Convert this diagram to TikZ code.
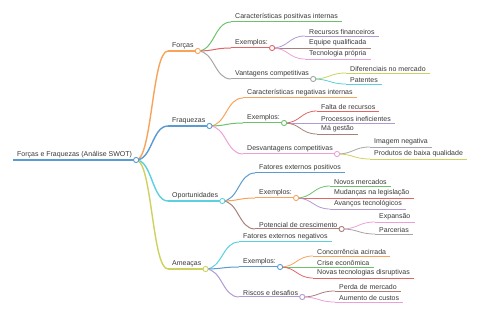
\documentclass[tikz,border=0pt]{standalone}
\usepackage{fontspec}
\setmainfont{Liberation Sans}
\usepackage{xcolor}
\usetikzlibrary{calc}

\definecolor{cblue}{HTML}{5B9BD0}
\definecolor{corange}{HTML}{F7A35C}
\definecolor{cgreen}{HTML}{6CC26C}
\definecolor{cred}{HTML}{E06666}
\definecolor{cpurple}{HTML}{B09AD4}
\definecolor{cbrown}{HTML}{A98079}
\definecolor{cpink}{HTML}{EDA0D6}
\definecolor{cgray}{HTML}{A6A6A6}
\definecolor{colive}{HTML}{CED15E}
\definecolor{ccyan}{HTML}{5CD0DE}

% curved link from a parent knob to the start of a child's bar
\newcommand{\mmlink}[3]{\draw[#3] let \p1=(#1.south east), \p2=(#2.south west) in
  (\p1) .. controls ({(\x1+\x2)/2},\y1) and ({(\x1+\x2)/2},\y2) .. (\p2);}
% bar under a label
\newcommand{\mmbar}[2]{\draw[#2] (#1.south west) -- (#1.south east);}
% open knob at the end of a bar
\newcommand{\mmknob}[2]{\node[knob, draw=#2] (#1-k) at (#1.south east) {};}

\begin{document}
\begin{tikzpicture}[x=1pt, y=-1pt,
    item/.style={anchor=south west, inner xsep=4pt, inner ysep=1.6pt,
                 text=black!78, font=\fontsize{7}{8}\selectfont},
    knob/.style={circle, fill=white, inner sep=0pt, minimum size=5.2pt, line width=0.9pt},
    d0/.style={line width=1.8pt}, d1/.style={line width=1.4pt},
    d2/.style={line width=1pt}, d3/.style={line width=0.8pt}
    ]
    \useasboundingbox (0,0) rectangle (480,320);

    % root and main branches
    \node[item] (root) at (13,160) {Forças e Fraquezas (Análise SWOT)};
    \node[item] (forcas)  at (168,51)  {Forças};
    \node[item] (fraq)    at (168,126) {Fraquezas};
    \node[item] (oport)   at (168,201) {Oportunidades};
    \node[item] (ameacas) at (168,269) {Ameaças};

    % Forças
    \node[item] (fo-car)  at (231,22) {Características positivas internas};
    \node[item] (fo-ex)   at (231,48) {Exemplos:};
    \node[item] (fo-vant) at (231,79) {Vantagens competitivas};
    \node[item] (fo-rec)  at (305,36) {Recursos financeiros};
    \node[item] (fo-eq)   at (305,48) {Equipe qualificada};
    \node[item] (fo-tec)  at (305,59) {Tecnologia própria};
    \node[item] (fo-dif)  at (346,73) {Diferenciais no mercado};
    \node[item] (fo-pat)  at (346,84) {Patentes};

    % Fraquezas
    \node[item] (fr-car)  at (243,98)  {Características negativas internas};
    \node[item] (fr-ex)   at (243,123) {Exemplos:};
    \node[item] (fr-desv) at (243,154) {Desvantagens competitivas};
    \node[item] (fr-fal)  at (317,111) {Falta de recursos};
    \node[item] (fr-proc) at (317,123) {Processos ineficientes};
    \node[item] (fr-ges)  at (317,134) {Má gestão};
    \node[item] (fr-img)  at (370,147) {Imagem negativa};
    \node[item] (fr-prod) at (370,159) {Produtos de baixa qualidade};

    % Oportunidades
    \node[item] (op-fat)  at (255,173) {Fatores externos positivos};
    \node[item] (op-ex)   at (255,198) {Exemplos:};
    \node[item] (op-pot)  at (255,229) {Potencial de crescimento};
    \node[item] (op-nov)  at (330,186) {Novos mercados};
    \node[item] (op-mud)  at (330,198) {Mudanças na legislação};
    \node[item] (op-ava)  at (330,209) {Avanços tecnológicos};
    \node[item] (op-exp)  at (375,222) {Expansão};
    \node[item] (op-par)  at (375,234) {Parcerias};

    % Ameaças
    \node[item] (am-fat)  at (239,242) {Fatores externos negativos};
    \node[item] (am-ex)   at (239,267) {Exemplos:};
    \node[item] (am-ris)  at (239,297) {Riscos e desafios};
    \node[item] (am-con)  at (313,256) {Concorrência acirrada};
    \node[item] (am-cri)  at (313,267) {Crise econômica};
    \node[item] (am-nov)  at (313,278) {Novas tecnologias disruptivas};
    \node[item] (am-per)  at (335,291) {Perda de mercado};
    \node[item] (am-aum)  at (335,302) {Aumento de custos};

    % links
    \mmlink{root}{forcas}{d1, corange}
    \mmlink{root}{fraq}{d1, cblue}
    \mmlink{root}{oport}{d1, ccyan}
    \mmlink{root}{ameacas}{d1, colive}
    \mmlink{forcas}{fo-car}{d2, cgreen}
    \mmlink{forcas}{fo-ex}{d2, cred}
    \mmlink{forcas}{fo-vant}{d2, cgray}
    \mmlink{fo-ex}{fo-rec}{d3, cpurple}
    \mmlink{fo-ex}{fo-eq}{d3, cbrown}
    \mmlink{fo-ex}{fo-tec}{d3, cpink}
    \mmlink{fo-vant}{fo-dif}{d3, colive}
    \mmlink{fo-vant}{fo-pat}{d3, ccyan}
    \mmlink{fraq}{fr-car}{d2, corange}
    \mmlink{fraq}{fr-ex}{d2, cgreen}
    \mmlink{fraq}{fr-desv}{d2, cpink}
    \mmlink{fr-ex}{fr-fal}{d3, cred}
    \mmlink{fr-ex}{fr-proc}{d3, cpurple}
    \mmlink{fr-ex}{fr-ges}{d3, cbrown}
    \mmlink{fr-desv}{fr-img}{d3, cgray}
    \mmlink{fr-desv}{fr-prod}{d3, colive}
    \mmlink{oport}{op-fat}{d2, cblue}
    \mmlink{oport}{op-ex}{d2, corange}
    \mmlink{oport}{op-pot}{d2, cbrown}
    \mmlink{op-ex}{op-nov}{d3, cgreen}
    \mmlink{op-ex}{op-mud}{d3, cred}
    \mmlink{op-ex}{op-ava}{d3, cpurple}
    \mmlink{op-pot}{op-exp}{d3, cpink}
    \mmlink{op-pot}{op-par}{d3, cgray}
    \mmlink{ameacas}{am-fat}{d2, ccyan}
    \mmlink{ameacas}{am-ex}{d2, cblue}
    \mmlink{ameacas}{am-ris}{d2, cpurple}
    \mmlink{am-ex}{am-con}{d3, corange}
    \mmlink{am-ex}{am-cri}{d3, cgreen}
    \mmlink{am-ex}{am-nov}{d3, cred}
    \mmlink{am-ris}{am-per}{d3, cbrown}
    \mmlink{am-ris}{am-aum}{d3, cpink}

    % bars
    \mmbar{root}{d0, cblue}
    \mmbar{forcas}{d1, corange}   \mmbar{fraq}{d1, cblue}
    \mmbar{oport}{d1, ccyan}      \mmbar{ameacas}{d1, colive}
    \mmbar{fo-car}{d2, cgreen}    \mmbar{fo-ex}{d2, cred}     \mmbar{fo-vant}{d2, cgray}
    \mmbar{fo-rec}{d3, cpurple}   \mmbar{fo-eq}{d3, cbrown}   \mmbar{fo-tec}{d3, cpink}
    \mmbar{fo-dif}{d3, colive}    \mmbar{fo-pat}{d3, ccyan}
    \mmbar{fr-car}{d2, corange}   \mmbar{fr-ex}{d2, cgreen}   \mmbar{fr-desv}{d2, cpink}
    \mmbar{fr-fal}{d3, cred}      \mmbar{fr-proc}{d3, cpurple} \mmbar{fr-ges}{d3, cbrown}
    \mmbar{fr-img}{d3, cgray}     \mmbar{fr-prod}{d3, colive}
    \mmbar{op-fat}{d2, cblue}     \mmbar{op-ex}{d2, corange}  \mmbar{op-pot}{d2, cbrown}
    \mmbar{op-nov}{d3, cgreen}    \mmbar{op-mud}{d3, cred}    \mmbar{op-ava}{d3, cpurple}
    \mmbar{op-exp}{d3, cpink}     \mmbar{op-par}{d3, cgray}
    \mmbar{am-fat}{d2, ccyan}     \mmbar{am-ex}{d2, cblue}    \mmbar{am-ris}{d2, cpurple}
    \mmbar{am-con}{d3, corange}   \mmbar{am-cri}{d3, cgreen}  \mmbar{am-nov}{d3, cred}
    \mmbar{am-per}{d3, cbrown}    \mmbar{am-aum}{d3, cpink}

    % knobs
    \mmknob{root}{cblue}
    \mmknob{forcas}{corange}  \mmknob{fraq}{cblue}
    \mmknob{oport}{ccyan}     \mmknob{ameacas}{colive}
    \mmknob{fo-ex}{cred}      \mmknob{fo-vant}{cgray}
    \mmknob{fr-ex}{cgreen}    \mmknob{fr-desv}{cpink}
    \mmknob{op-ex}{corange}   \mmknob{op-pot}{cbrown}
    \mmknob{am-ex}{cblue}     \mmknob{am-ris}{cpurple}
  \end{tikzpicture}
\end{document}
